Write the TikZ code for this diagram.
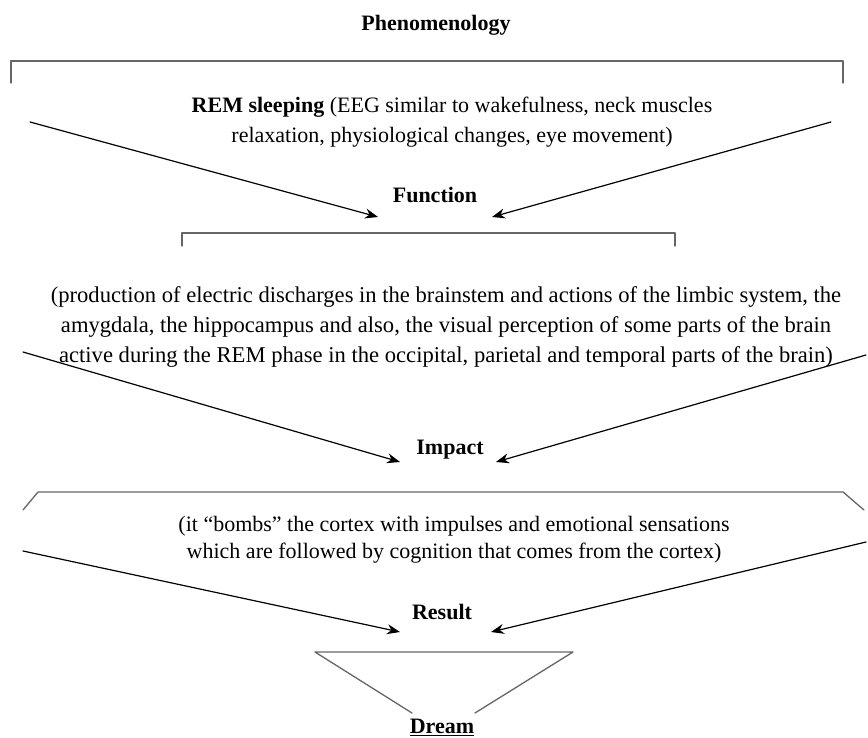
\documentclass[tikz,border=0pt]{standalone}
\usepackage{fontspec}
\setmainfont{Liberation Serif}
\usetikzlibrary{arrows.meta}
\tikzset{
	brk/.style={draw=black!60,line width=1.3pt},
	arr/.style={->,line width=1.2pt},
	lbl/.style={font={\fontsize{22}{30}\selectfont\bfseries},inner sep=0pt},
	txt/.style={font={\fontsize{22}{30}\selectfont},align=center,inner sep=0pt}
}
\begin{document}
\begin{tikzpicture}[>={Stealth[length=13pt,width=10pt]},line join=round,line cap=round,x=1pt,y=-1pt]
	\useasboundingbox (0,0) rectangle (868,738);
	% cac nhan
	\node[lbl] (phen) at (436,25) {Phenomenology};
	\node[txt] (rem) at (452,122) {\textbf{REM sleeping} (EEG similar to wakefulness, neck muscles\\relaxation, physiological changes, eye movement)};
	\node[lbl] (func) at (435,195) {Function};
	\node[txt,font={\fontsize{22.6}{30}\selectfont}] (funcTxt) at (446,327) {(production of electric discharges in the brainstem and actions of the limbic system, the\\amygdala, the hippocampus and also, the visual perception of some parts of the brain\\active during the REM phase in the occipital, parietal and temporal parts of the brain)};
	\node[lbl] (impact) at (450,450) {Impact};
	\node[txt,font={\fontsize{22}{27}\selectfont}] (impTxt) at (454,540) {(it “bombs” the cortex with impulses and emotional sensations\\which are followed by cognition that comes from the cortex)};
	\node[lbl] (result) at (442,612) {Result};
	\node[lbl] (dream) at (442,727) {\underline{Dream}};
	% dau mut cac mui ten
	\path
	(30,122) coordinate (A1)
	(831,122) coordinate (A2)
	(378,217) coordinate (F1)
	(492,217) coordinate (F2)
	(23,352) coordinate (B1)
	(866,355) coordinate (B2)
	(400,462) coordinate (I1)
	(496,462) coordinate (I2)
	(23,551) coordinate (C1)
	(866,542) coordinate (C2)
	(400,632) coordinate (R1)
	(491,632) coordinate (R2)
	;
	% cac khung
	\draw[brk] (11,83)--(11,61)--(843,61)--(843,83);
	\draw[brk] (182,246)--(182,233)--(675,233)--(675,246);
	\draw[brk] (23,510)--(38,492)--(843,492)--(864,510);
	\draw[brk] (412,713)--(315,652)--(573,652)--(475,713);
	% cac mui ten
	\draw[arr] (A1)--(F1);
	\draw[arr] (A2)--(F2);
	\draw[arr] (B1)--(I1);
	\draw[arr] (B2)--(I2);
	\draw[arr] (C1)--(R1);
	\draw[arr] (C2)--(R2);
\end{tikzpicture}
\end{document}
